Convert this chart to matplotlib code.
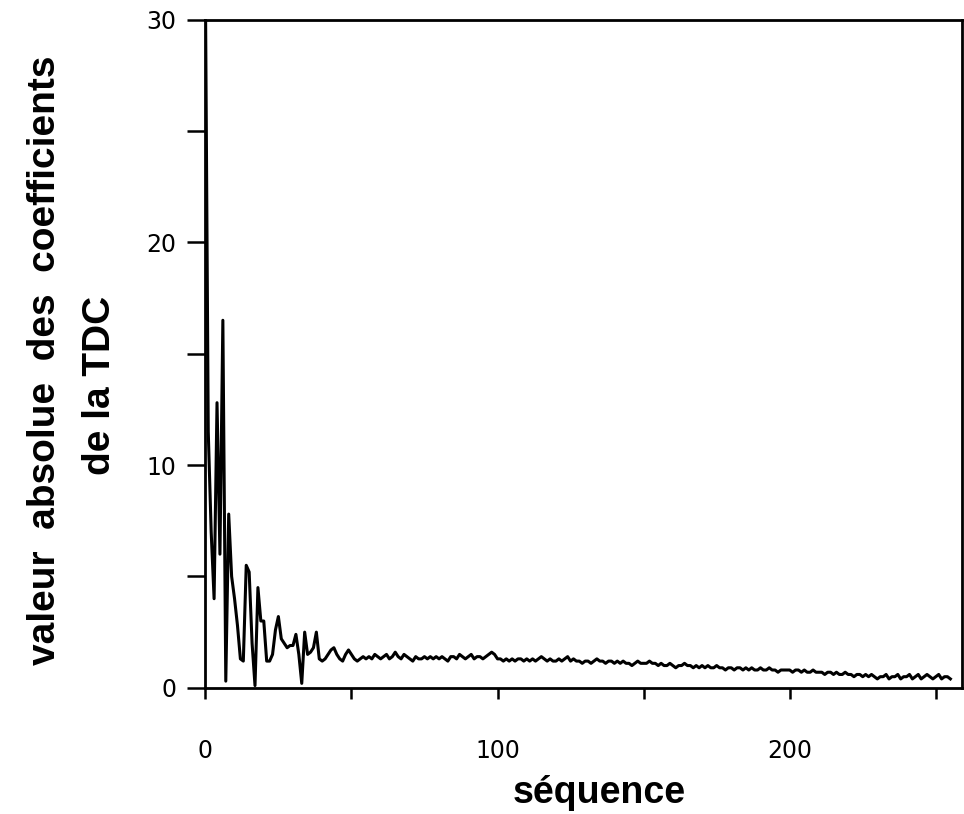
import numpy as np
import matplotlib.pyplot as plt

# |DCT coefficient| per sequence index
coef = [32.0, 11.5, 7.0, 4.0, 12.8, 6.0, 16.5, 0.3, 7.8, 5.0,
        4.0, 2.8, 1.3, 1.2, 5.5, 5.2, 2.0, 0.1, 4.5, 3.0,
        3.0, 1.2, 1.2, 1.5, 2.6, 3.2, 2.2, 2.0, 1.8, 1.9,
        1.9, 2.4, 1.5, 0.2, 2.5, 1.5, 1.6, 1.8, 2.5, 1.3,
        1.2, 1.3, 1.5, 1.7, 1.8, 1.5, 1.3, 1.2, 1.5, 1.7,
        1.5, 1.3, 1.2, 1.3, 1.4, 1.3, 1.4, 1.3, 1.5, 1.4,
        1.3, 1.4, 1.5, 1.3, 1.4, 1.6, 1.4, 1.3, 1.5, 1.4,
        1.3, 1.2, 1.4, 1.3, 1.3, 1.4, 1.3, 1.4, 1.3, 1.4,
        1.3, 1.4, 1.3, 1.2, 1.4, 1.4, 1.3, 1.5, 1.4, 1.3,
        1.4, 1.5, 1.3, 1.4, 1.4, 1.3, 1.4, 1.5, 1.6, 1.5,
        1.3, 1.3, 1.2, 1.3, 1.2, 1.3, 1.2, 1.3, 1.3, 1.2,
        1.3, 1.2, 1.3, 1.2, 1.3, 1.4, 1.3, 1.2, 1.3, 1.2,
        1.2, 1.3, 1.2, 1.3, 1.4, 1.2, 1.3, 1.2, 1.2, 1.1,
        1.2, 1.2, 1.1, 1.2, 1.3, 1.2, 1.2, 1.1, 1.2, 1.2,
        1.1, 1.2, 1.1, 1.2, 1.1, 1.1, 1.0, 1.1, 1.2, 1.1,
        1.1, 1.1, 1.2, 1.1, 1.1, 1.0, 1.1, 1.0, 1.0, 1.1,
        1.0, 0.9, 1.0, 1.0, 1.1, 1.0, 1.0, 0.9, 1.0, 0.9,
        1.0, 0.9, 1.0, 0.9, 0.9, 1.0, 0.9, 0.9, 0.8, 0.9,
        0.9, 0.8, 0.9, 0.9, 0.8, 0.9, 0.8, 0.9, 0.8, 0.8,
        0.9, 0.8, 0.8, 0.9, 0.8, 0.8, 0.7, 0.8, 0.8, 0.8,
        0.8, 0.7, 0.8, 0.8, 0.7, 0.8, 0.7, 0.7, 0.8, 0.7,
        0.7, 0.7, 0.6, 0.7, 0.7, 0.6, 0.7, 0.6, 0.6, 0.7,
        0.6, 0.6, 0.5, 0.6, 0.6, 0.5, 0.6, 0.5, 0.6, 0.5,
        0.4, 0.5, 0.5, 0.6, 0.4, 0.5, 0.5, 0.6, 0.4, 0.5,
        0.5, 0.6, 0.4, 0.5, 0.6, 0.4, 0.5, 0.6, 0.5, 0.4,
        0.5, 0.6, 0.4, 0.5, 0.5, 0.4]
seq = np.arange(len(coef))

x_major = [0, 100, 200]
x_minor = [50, 150, 250]
y_major = [0, 10, 20, 30]
y_minor = [5, 15, 25]

plt.rcParams['font.family'] = ['Liberation Sans', 'DejaVu Sans']

fig = plt.figure(figsize=(9.64, 8.14), dpi=100)
ax = fig.add_axes([0.213, 0.155, 0.785, 0.821])

ax.plot(seq, coef, color='black', lw=2.2, clip_on=True)

ax.set_xlim(0, 259)
ax.set_ylim(0, 30)

ax.set_xticks(x_major)
ax.set_xticks(x_minor, minor=True)
ax.set_yticks(y_major)
ax.set_yticks(y_minor, minor=True)
ax.tick_params(axis='x', which='both', direction='out', length=8, width=1.8, pad=29, labelsize=17)
ax.tick_params(axis='y', which='both', direction='out', length=13, width=1.8, pad=8, labelsize=17)
for lab in ax.get_xticklabels() + ax.get_yticklabels():
    lab.set_family('DejaVu Sans')
for sp in ax.spines.values():
    sp.set_linewidth(2.0)

fig.text(0.047, 0.558, 'valeur  absolue  des  coefficients', rotation=90,
         ha='center', va='center', fontsize=28, fontweight='bold')
fig.text(0.104, 0.527, 'de la TDC', rotation=90,
         ha='center', va='center', fontsize=28, fontweight='bold')
fig.text(0.622, 0.026, 'séquence', ha='center', va='center',
         fontsize=27, fontweight='bold')

plt.savefig('out.png', dpi=100)
